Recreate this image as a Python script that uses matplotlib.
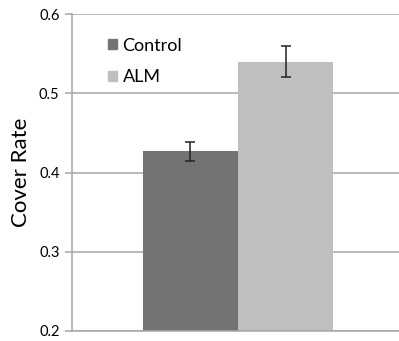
import matplotlib.pyplot as plt
from matplotlib.patches import Patch

plt.rcParams['font.family'] = ['Lato', 'DejaVu Sans']

groups = ['Control', 'ALM']
values = [0.427, 0.540]
errors = [0.012, 0.020]
colors = ['#737373', '#bfbfbf']
yticks = [0.2, 0.3, 0.4, 0.5, 0.6]

fig = plt.figure(figsize=(3.99, 3.41), dpi=100)
ax = fig.add_axes([72 / 399, 10 / 341, 332 / 399, 317 / 341])

xs = range(len(groups))
ax.bar(xs, values, width=1.0, color=colors, zorder=2)
ax.errorbar(xs, values, yerr=errors, fmt='none', ecolor='#222222',
            elinewidth=1.1, capsize=3.5, capthick=1.1, zorder=3)

ax.set_ylim(0.2, 0.6)
ax.set_xlim(-1.247, 2.247)
ax.set_yticks(yticks)
ax.set_yticklabels(['%.1f' % t for t in yticks], fontsize=10.5)
ax.set_xticks([])
ax.yaxis.grid(True, color='#a6a6a6', linewidth=1.1, zorder=0)
ax.set_axisbelow(True)
for s in ['top', 'right']:
    ax.spines[s].set_visible(False)
ax.spines['left'].set_color('#a6a6a6')
ax.spines['bottom'].set_color('#a6a6a6')
ax.spines['left'].set_linewidth(1.1)
ax.spines['bottom'].set_linewidth(1.1)
ax.tick_params(axis='y', length=5, color='#a6a6a6', width=1.1, pad=4)
ax.set_ylabel('Cover Rate', fontsize=16, labelpad=6)

handles = [Patch(color=c, label=g) for g, c in zip(groups, colors)]
ax.legend(handles=handles, loc='upper left', bbox_to_anchor=(0.06, 0.977),
          frameon=False, fontsize=13, handlelength=0.5, handleheight=0.5,
          handletextpad=0.3, labelspacing=0.88)

fig.savefig('out.png', dpi=100)
